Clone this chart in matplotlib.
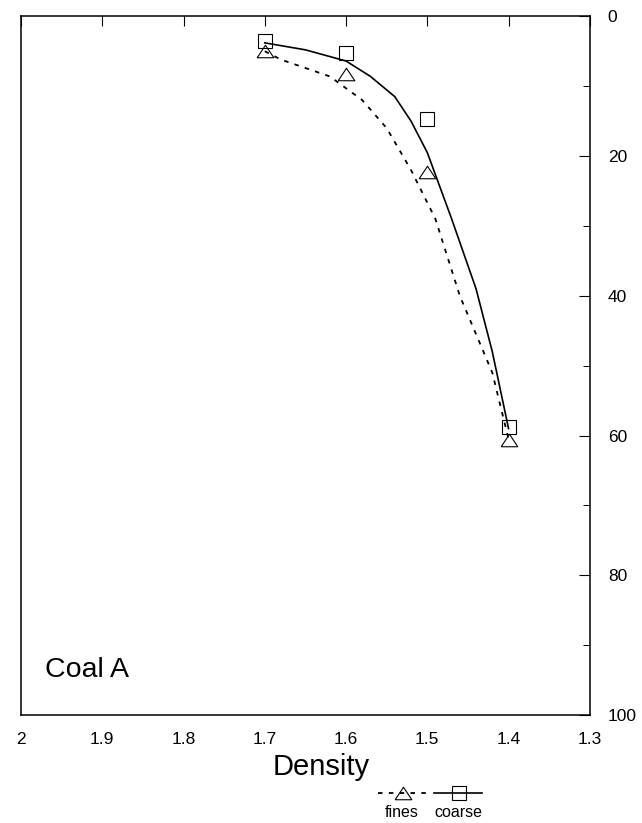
import matplotlib
matplotlib.use('agg')
import matplotlib.pyplot as plt
from matplotlib.lines import Line2D
from matplotlib.offsetbox import DrawingArea, TextArea, VPacker, HPacker, AnchoredOffsetbox
from matplotlib.ticker import MultipleLocator

plt.rcParams['font.family'] = ['Liberation Sans', 'DejaVu Sans']

# measured points
density = [1.7, 1.6, 1.5, 1.4]
fines_pts = [5.0, 8.3, 22.3, 60.7]
coarse_pts = [3.6, 5.3, 14.7, 58.8]

# fitted curves
fines_curve_x = [1.7, 1.68, 1.62, 1.58, 1.55, 1.52, 1.49, 1.46, 1.42, 1.4]
fines_curve_y = [5.0, 6.2, 8.6, 12.0, 16.0, 22.0, 29.0, 40.0, 51.0, 60.5]
coarse_curve_x = [1.7, 1.65, 1.6, 1.57, 1.54, 1.52, 1.5, 1.47, 1.44, 1.42, 1.4]
coarse_curve_y = [3.8, 4.8, 6.4, 8.6, 11.5, 15.0, 19.5, 29.0, 39.0, 48.0, 59.0]

x_ticks = [2, 1.9, 1.8, 1.7, 1.6, 1.5, 1.4, 1.3]
x_labels = ['2', '1.9', '1.8', '1.7', '1.6', '1.5', '1.4', '1.3']
y_ticks = [0, 20, 40, 60, 80, 100]

tri = [(-1, -0.75), (1, -0.75), (0, 0.75), (-1, -0.75)]

fig = plt.figure(figsize=(6.42, 8.23), dpi=100)
ax = fig.add_axes([0.0327, 0.1312, 0.886, 0.849])

fines_style = dict(color='black', lw=1.3, ls=(0, (2.5, 3.5)))
coarse_style = dict(color='black', lw=1.2, ls='-')
tri_style = dict(marker=tri, ms=12, mfc='none', mec='black', mew=0.8, ls='none')
sq_style = dict(marker='s', ms=9.5, mfc='none', mec='black', mew=0.8, ls='none')

ax.plot(fines_curve_x, fines_curve_y, **fines_style)
ax.plot(coarse_curve_x, coarse_curve_y, **coarse_style)
ax.plot(density, fines_pts, **tri_style)
ax.plot(density, coarse_pts, **sq_style)

ax.set_xlim(2, 1.3)
ax.set_ylim(100, 0)

# x: ticks on top pointing in, labels at bottom
ax.set_xticks(x_ticks)
ax.set_xticklabels(x_labels)
ax.tick_params(axis='x', which='major', direction='in', top=True, bottom=False,
               labeltop=False, labelbottom=True, length=7, width=0.8,
               labelsize=12.5, pad=12)

# y: right side
ax.set_yticks(y_ticks)
ax.yaxis.set_minor_locator(MultipleLocator(10))
ax.tick_params(axis='y', which='both', direction='in', left=False, right=True,
               labelleft=False, labelright=True, labelsize=12.5, pad=13)
ax.tick_params(axis='y', which='major', length=8, width=0.8)
ax.tick_params(axis='y', which='minor', length=5, width=0.7)

for s in ax.spines.values():
    s.set_linewidth(1.1)

ax.set_xlabel('Density', fontsize=21)
ax.xaxis.set_label_coords(0.527, -0.055)

ax.text(0.042, 0.064, 'Coal A', transform=ax.transAxes, fontsize=20.5,
        ha='left', va='center')

# legend: symbol above label
def legend_item(label, line_style, mark_style):
    da = DrawingArea(34, 12, 0, 0)
    da.add_artist(Line2D([0, 34], [6, 6], **line_style))
    da.add_artist(Line2D([18], [6], **mark_style))
    ta = TextArea(label, textprops=dict(fontsize=11.5))
    return VPacker(children=[da, ta], align='center', pad=0, sep=3)

items = HPacker(children=[legend_item('fines', fines_style, tri_style),
                          legend_item('coarse', coarse_style, sq_style)],
                align='center', pad=0, sep=6)
box = AnchoredOffsetbox(loc='center', child=items, frameon=False,
                        bbox_to_anchor=(0.67, 0.025), bbox_transform=fig.transFigure)
fig.add_artist(box)

fig.savefig('out.png', dpi=100)
